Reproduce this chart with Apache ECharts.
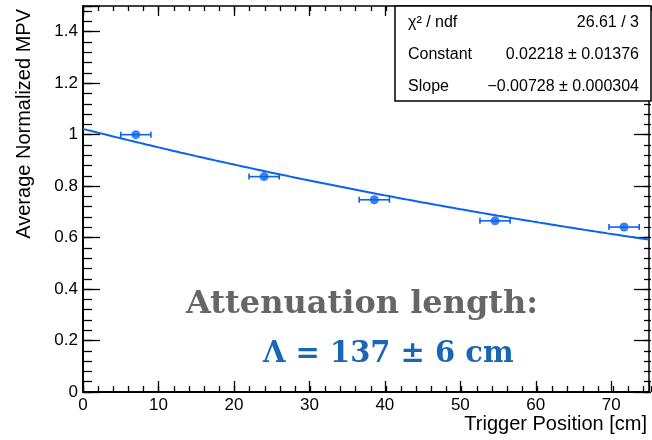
<!DOCTYPE html>
<html>
<head>
<meta charset="utf-8">
<script src="https://cdn.jsdelivr.net/npm/echarts@6/dist/echarts.min.js"></script>
<style>
  html, body { margin: 0; padding: 0; background: #fff; }
  #chart { width: 652px; height: 440px; }
</style>
</head>
<body>
<div id="chart"></div>
<script>
// Measured trigger positions [cm] and average normalized MPV
const triggerPos = [7.0, 24.0, 38.6, 54.6, 71.7];
const avgMPV = [1.0, 0.837, 0.747, 0.665, 0.641];
const posErr = [2, 2, 2, 2, 2];

// Exponential fit: exp(Constant + Slope * x)
const fitConstant = 0.02218;
const fitSlope = -0.00728;

// Axis ranges and tick spacing
const xRange = [0, 75];
const yRange = [0, 1.5];
const xMajor = 10, xMinor = 2;
const yMajor = 0.2, yMinor = 0.04;

// Stats box rows and annotation strings
const statNames = ['\u03C7\u00B2 / ndf', 'Constant', 'Slope'];
const statValues = ['26.61 / 3', '0.02218 \u00B1 0.01376', '\u22120.00728 \u00B1 0.000304'];
const noteTitle = 'Attenuation length:';
const noteValue = '\u039B = 137 \u00B1 6 cm';
const xTitle = 'Trigger Position [cm]';
const yTitle = 'Average Normalized MPV';

const sans = '"Liberation Sans", Arial, Helvetica, sans-serif';
const serif = '"DejaVu Serif", serif';
const blue = '#0a62f0';

const fitCurve = [];
for (let x = xRange[0]; x <= xRange[1] + 1e-9; x += 0.5) {
  fitCurve.push([x, Math.exp(fitConstant + fitSlope * x)]);
}
const points = triggerPos.map((x, i) => [x, avgMPV[i], posErr[i]]);

function onStep(v, step) {
  const k = v / step;
  return Math.abs(k - Math.round(k)) < 1e-6;
}

function makeAxis(gridIndex, position, range, interval, tickLen, opts) {
  return Object.assign({
    type: 'value',
    gridIndex: gridIndex,
    position: position,
    min: range[0],
    max: range[1],
    interval: interval,
    axisLine: { show: false, onZero: false },
    axisTick: { show: true, inside: true, length: tickLen, lineStyle: { color: '#000', width: 1.3 } },
    axisLabel: { show: false },
    splitLine: { show: false },
    minorTick: { show: false }
  }, opts || {});
}

const frameLine = (w) => ({ show: true, onZero: false, lineStyle: { color: '#000', width: w } });

const chart = echarts.init(document.getElementById('chart'), null, { renderer: 'canvas' });

chart.setOption({
  animation: false,
  backgroundColor: '#fff',
  grid: [
    { left: 83, right: 1, top: 6, bottom: 48 },
    { left: 83, right: 1, top: 6, bottom: 48 }
  ],
  xAxis: [
    makeAxis(0, 'bottom', xRange, xMajor, 11, {
      axisLine: frameLine(2),
      axisLabel: {
        show: true, margin: 5, color: '#000', fontSize: 17, fontFamily: sans,
        formatter: v => (onStep(v, xMajor) ? String(v) : '')
      }
    }),
    makeAxis(0, 'top', xRange, xMajor, 10, { axisLine: frameLine(1.5) }),
    makeAxis(1, 'bottom', xRange, xMinor, 6),
    makeAxis(1, 'top', xRange, xMinor, 5)
  ],
  yAxis: [
    makeAxis(0, 'left', yRange, yMajor, 17, {
      axisLine: frameLine(2),
      axisLabel: {
        show: true, margin: 5, color: '#000', fontSize: 17, fontFamily: sans,
        formatter: v => (onStep(v, yMajor) ? String(+v.toFixed(1)) : '')
      }
    }),
    makeAxis(0, 'right', yRange, yMajor, 15, { axisLine: frameLine(1.5) }),
    makeAxis(1, 'left', yRange, yMinor, 9),
    makeAxis(1, 'right', yRange, yMinor, 7)
  ],
  series: [
    {
      name: 'fit',
      type: 'line',
      xAxisIndex: 0,
      yAxisIndex: 0,
      data: fitCurve,
      showSymbol: false,
      smooth: false,
      clip: true,
      lineStyle: { color: blue, width: 2 },
      z: 2
    },
    {
      name: 'xerr',
      type: 'custom',
      xAxisIndex: 0,
      yAxisIndex: 0,
      data: points,
      encode: { x: 0, y: 1 },
      renderItem: function (params, api) {
        const x = api.value(0), y = api.value(1), e = api.value(2);
        const a = api.coord([x - e, y]);
        const b = api.coord([x + e, y]);
        const cap = 3;
        const style = { stroke: blue, lineWidth: 1.6 };
        return {
          type: 'group',
          children: [
            { type: 'line', shape: { x1: a[0], y1: a[1], x2: b[0], y2: b[1] }, style: style },
            { type: 'line', shape: { x1: a[0], y1: a[1] - cap, x2: a[0], y2: a[1] + cap }, style: style },
            { type: 'line', shape: { x1: b[0], y1: b[1] - cap, x2: b[0], y2: b[1] + cap }, style: style }
          ]
        };
      },
      z: 3
    },
    {
      name: 'data',
      type: 'scatter',
      xAxisIndex: 0,
      yAxisIndex: 0,
      data: points.map(p => [p[0], p[1]]),
      symbol: 'circle',
      symbolSize: 9,
      itemStyle: { color: blue },
      z: 4
    }
  ],
  graphic: [
    // statistics box
    {
      type: 'rect', z: 100,
      shape: { x: 395, y: 6, width: 256, height: 95 },
      style: { fill: '#fff', stroke: '#000', lineWidth: 1.5 }
    },
    ...statNames.map((t, i) => ({
      type: 'text', z: 101, x: 408, y: [23, 54.5, 86.5][i],
      style: { text: t, fill: '#000', fontSize: 16, fontFamily: sans, align: 'left', verticalAlign: 'middle' }
    })),
    ...statValues.map((t, i) => ({
      type: 'text', z: 101, x: 639, y: [23, 54.5, 86.5][i],
      style: { text: t, fill: '#000', fontSize: 16, fontFamily: sans, align: 'right', verticalAlign: 'middle' }
    })),
    // axis titles
    {
      type: 'text', z: 101, x: 647, y: 424.5,
      style: { text: xTitle, fill: '#000', fontSize: 20, fontFamily: sans, align: 'right', verticalAlign: 'middle' }
    },
    {
      type: 'text', z: 101, x: 24.5, y: 9, rotation: Math.PI / 2,
      style: { text: yTitle, fill: '#000', fontSize: 20, fontFamily: sans, align: 'right', verticalAlign: 'middle' }
    },
    // attenuation length annotation
    {
      type: 'text', z: 101, x: 186, y: 305,
      style: { text: noteTitle, fill: '#666666', fontSize: 32, fontWeight: 'bold', fontFamily: serif, align: 'left', verticalAlign: 'middle' }
    },
    {
      type: 'text', z: 101, x: 263, y: 354,
      style: { text: noteValue, fill: '#1866b4', fontSize: 29, fontWeight: 'bold', fontFamily: serif, align: 'left', verticalAlign: 'middle' }
    }
  ]
});
</script>
</body>
</html>
